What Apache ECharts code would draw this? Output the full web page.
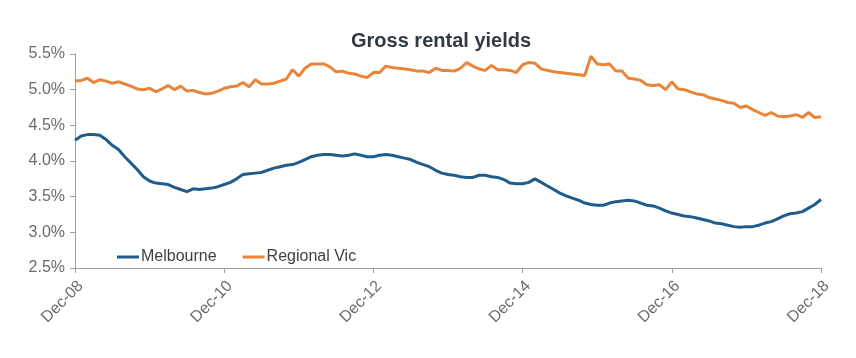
<!DOCTYPE html>
<html>
<head>
<meta charset="utf-8">
<script src="https://cdn.jsdelivr.net/npm/echarts@6/dist/echarts.min.js"></script>
<style>html,body{margin:0;padding:0;background:#fff}#c{width:856px;height:358px}</style>
</head>
<body>
<div id="c"></div>
<script>
var months = ['Jan','Feb','Mar','Apr','May','Jun','Jul','Aug','Sep','Oct','Nov','Dec'];
var categories = [];
for (var k = 0; k <= 120; k++) {
  var m = (11 + k) % 12;
  var y = 8 + Math.floor((11 + k) / 12);
  categories.push(months[m] + '-' + (y < 10 ? '0' + y : '' + y));
}
var melbourne = [
  4.29,4.35,4.37,4.37,4.36,4.30,4.22,4.16,4.06,3.97,
  3.88,3.78,3.72,3.69,3.68,3.67,3.63,3.60,3.57,3.61,
  3.60,3.61,3.62,3.64,3.67,3.70,3.75,3.81,3.82,3.83,
  3.84,3.87,3.90,3.92,3.94,3.95,3.98,4.02,4.06,4.08,
  4.09,4.09,4.08,4.07,4.08,4.10,4.08,4.06,4.06,4.08,
  4.09,4.08,4.06,4.04,4.02,3.98,3.95,3.92,3.87,3.83,
  3.81,3.80,3.78,3.77,3.77,3.80,3.80,3.78,3.77,3.74,
  3.69,3.68,3.68,3.70,3.75,3.70,3.65,3.60,3.55,3.51,
  3.48,3.45,3.41,3.39,3.38,3.38,3.41,3.43,3.44,3.45,
  3.44,3.41,3.38,3.37,3.34,3.30,3.27,3.25,3.23,3.22,
  3.20,3.18,3.16,3.13,3.12,3.10,3.08,3.07,3.08,3.08,
  3.10,3.13,3.15,3.19,3.23,3.26,3.27,3.29,3.34,3.39,
  3.46
];
var regionalVic = [
  5.12,5.13,5.16,5.10,5.14,5.12,5.09,5.11,5.08,5.05,
  5.01,5.00,5.02,4.97,5.01,5.06,5.00,5.05,4.98,4.99,
  4.96,4.94,4.95,4.98,5.02,5.04,5.05,5.10,5.04,5.14,
  5.08,5.08,5.09,5.12,5.15,5.28,5.19,5.30,5.36,5.36,
  5.36,5.32,5.25,5.26,5.23,5.22,5.19,5.17,5.24,5.24,
  5.33,5.31,5.30,5.29,5.28,5.26,5.26,5.24,5.30,5.27,
  5.27,5.26,5.30,5.38,5.33,5.29,5.27,5.34,5.28,5.28,
  5.27,5.24,5.35,5.38,5.37,5.29,5.27,5.25,5.24,5.23,
  5.22,5.21,5.20,5.47,5.36,5.35,5.36,5.26,5.26,5.16,
  5.15,5.13,5.07,5.06,5.07,5.00,5.11,5.01,5.00,4.97,
  4.94,4.93,4.89,4.87,4.85,4.82,4.81,4.75,4.77,4.72,
  4.68,4.64,4.68,4.63,4.62,4.63,4.65,4.61,4.68,4.61,
  4.62
];
var yTicks = [2.5, 3.0, 3.5, 4.0, 4.5, 5.0, 5.5];

var chart = echarts.init(document.getElementById('c'), null, {renderer: 'canvas'});
var font = 'Liberation Sans, Arial, Helvetica, sans-serif';
chart.setOption({
  animation: false,
  textStyle: {fontFamily: font},
  title: {
    text: 'Gross rental yields',
    left: 346,
    top: 26,
    textStyle: {fontSize: 20, fontWeight: 'bold', color: '#2f3a45', fontFamily: font}
  },
  legend: {
    left: 112,
    top: 244,
    itemWidth: 22,
    itemHeight: 3,
    itemGap: 26,
    icon: 'rect',
    textStyle: {fontSize: 16, color: '#404040', fontFamily: font, padding: [0, 0, 0, -3]},
    data: ['Melbourne', 'Regional Vic']
  },
  grid: {left: 75, right: 35, top: 54, bottom: 90, containLabel: false},
  xAxis: {
    type: 'category',
    data: categories,
    boundaryGap: false,
    axisLine: {lineStyle: {color: '#a0a0a0', width: 1}},
    axisTick: {show: true, interval: 23, length: 5, lineStyle: {color: '#a0a0a0'}},
    axisLabel: {interval: 23, rotate: 45, fontSize: 16, color: '#6b6b6b', margin: 10,
      verticalAlign: 'top', fontFamily: font},
    splitLine: {show: false}
  },
  yAxis: {
    type: 'value',
    min: yTicks[0],
    max: yTicks[yTicks.length - 1],
    interval: 0.5,
    axisLine: {show: true, lineStyle: {color: '#a0a0a0', width: 1}},
    axisTick: {show: true, length: 5, lineStyle: {color: '#a0a0a0'}},
    axisLabel: {fontSize: 16, color: '#6b6b6b', margin: 10, fontFamily: font,
      formatter: function (v) { return v.toFixed(1) + '%'; }},
    splitLine: {show: false}
  },
  series: [
    {
      name: 'Melbourne',
      type: 'line',
      data: melbourne,
      showSymbol: false,
      symbol: 'none',
      lineStyle: {color: '#1f5c8c', width: 3},
      itemStyle: {color: '#1f5c8c'}
    },
    {
      name: 'Regional Vic',
      type: 'line',
      data: regionalVic,
      showSymbol: false,
      symbol: 'none',
      lineStyle: {color: '#e8853a', width: 3},
      itemStyle: {color: '#e8853a'}
    }
  ]
});
</script>
</body>
</html>
